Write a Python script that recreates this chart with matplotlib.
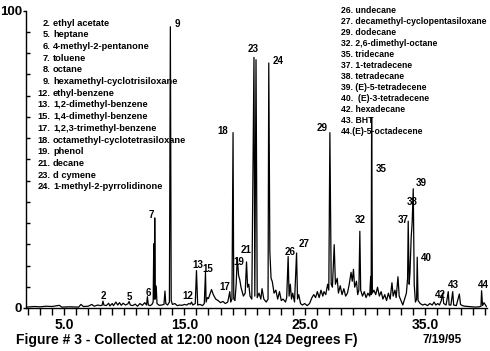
import matplotlib
matplotlib.use("Agg")
import matplotlib.pyplot as plt
from matplotlib.ticker import MultipleLocator, FixedLocator

# retention time (min) and relative abundance
rt = [1.85, 2.5, 3.0, 3.5, 4.0, 4.6, 4.8, 5.5, 6.2, 6.4, 6.6, 7.0, 7.3, 7.5, 7.8, 8.0,
      8.15, 8.23, 8.3, 8.5, 8.7, 8.8, 9.0, 9.1, 9.3, 9.45, 9.6, 9.75, 9.9, 10.1, 10.3,
      10.4, 10.5, 10.7, 10.9, 11.1, 11.3, 11.5, 11.7, 11.85, 11.92, 12.0, 12.15, 12.3,
      12.4, 12.45, 12.5, 12.53, 12.58, 12.65, 12.72, 12.9, 13.1, 13.3, 13.38, 13.45,
      13.6, 13.75, 13.83, 13.9, 14.0, 14.2, 14.4, 14.6, 14.8, 15.0, 15.2, 15.35, 15.5,
      15.58, 15.7, 15.9, 16.0, 16.1, 16.3, 16.5, 16.65, 16.75, 16.8, 16.9, 17.0, 17.25,
      17.4, 17.6, 17.8, 18.0, 18.2, 18.4, 18.6, 18.77, 18.85, 18.95, 19.04, 19.1, 19.2,
      19.3, 19.39, 19.5, 19.6, 19.7, 19.8, 19.9, 20.05, 20.16, 20.25, 20.35, 20.45, 20.6,
      20.78, 20.85, 20.95, 21.05, 21.2, 21.35, 21.45, 21.6, 21.8, 21.95, 22.01, 22.1,
      22.2, 22.3, 22.45, 22.6, 22.75, 22.9, 23.05, 23.2, 23.4, 23.5, 23.62, 23.7, 23.8,
      23.9, 24.0, 24.15, 24.32, 24.4, 24.5, 24.65, 24.8, 25.0, 25.2, 25.4, 25.6, 25.75,
      25.9, 26.05, 26.2, 26.35, 26.5, 26.6, 26.75, 26.9, 27.0, 27.09, 27.2, 27.3, 27.45,
      27.55, 27.7, 27.8, 27.95, 28.1, 28.25, 28.4, 28.55, 28.7, 28.85, 28.95, 29.05,
      29.15, 29.3, 29.4, 29.5, 29.58, 29.65, 29.8, 29.95, 30.1, 30.25, 30.4, 30.48,
      30.52, 30.56, 30.62, 30.75, 30.9, 31.05, 31.2, 31.35, 31.5, 31.65, 31.8, 31.95,
      32.1, 32.25, 32.35, 32.5, 32.6, 32.75, 32.85, 33.0, 33.15, 33.3, 33.45, 33.55,
      33.6, 33.68, 33.75, 33.85, 33.93, 34.02, 34.1, 34.2, 34.3, 34.35, 34.42, 34.6,
      34.8, 35.0, 35.2, 35.4, 35.6, 35.75, 35.9, 36.05, 36.2, 36.35, 36.46, 36.55,
      36.75, 36.93, 37.0, 37.15, 37.3, 37.38, 37.6, 37.85, 37.95, 38.1, 38.3, 38.6,
      38.9, 39.2, 39.5, 39.65, 39.7, 39.78, 39.9, 40.1]
abundance = [0.3, 0.5, 0.4, 0.6, 0.5, 0.9, 0.3, 0.4, 0.3, 1.2, 0.5, 0.6, 1.2, 0.6, 1.0, 0.8,
             0.9, 2.3, 1.0, 0.8, 1.6, 0.7, 1.5, 0.8, 2.0, 1.0, 1.8, 0.9, 1.6, 1.0, 1.4,
             2.2, 1.0, 0.8, 1.3, 0.6, 1.5, 0.9, 1.8, 1.0, 3.8, 1.0, 0.8, 1.2,
             2.0, 21.6, 3.0, 30.3, 3.0, 7.4, 1.5, 0.9, 1.0, 1.2, 5.7, 1.5,
             1.0, 2.0, 94.6, 2.5, 1.2, 1.5, 0.8, 1.0, 0.9, 1.2, 1.0, 1.5, 1.3,
             2.0, 1.0, 1.5, 12.6, 1.0, 1.2, 0.8, 1.5, 12.0, 2.0, 3.5, 3.2, 6.2,
             4.5, 3.0, 2.5, 1.8, 2.2, 1.5, 2.0, 5.5, 2.0, 3.0, 59.0, 3.0, 2.5,
             8.0, 17.0, 11.0, 9.5, 7.0, 5.5, 4.0, 5.0, 15.5, 7.0, 8.0, 4.0, 3.0,
             84.3, 4.0, 83.5, 3.5, 5.0, 3.0, 6.5, 3.0, 2.0, 3.0, 82.4, 19.0,
             10.0, 8.9, 5.0, 6.0, 3.0, 5.5, 2.5, 3.0, 2.0, 3.5, 17.3, 4.0, 8.0,
             3.0, 5.0, 2.0, 18.5, 3.0, 4.5, 1.5, 1.0, 1.5, 0.8, 1.5, 3.5, 4.5,
             3.5, 5.5, 3.5, 6.0, 4.0, 5.5, 4.5, 8.0, 6.0, 59.0, 8.0, 7.0, 21.3,
             8.0, 10.0, 5.0, 7.5, 4.5, 6.5, 4.0, 5.0, 8.0, 12.0, 9.0, 13.0,
             7.0, 9.0, 4.5, 6.0, 25.8, 6.0, 4.0, 5.5, 3.5, 5.0, 4.0, 10.6,
             4.5, 64.0, 5.0, 6.0, 4.5, 7.0, 4.0, 5.5, 3.0, 4.5, 2.5, 5.0,
             3.0, 8.5, 4.0, 6.0, 3.5, 10.5, 4.0, 2.5, 1.0, 3.0, 5.0, 10.0,
             29.2, 8.0, 12.0, 24.0, 28.7, 40.1, 8.0, 2.0, 3.0, 17.1, 2.5, 1.5,
             1.0, 1.3, 0.8, 1.5, 1.0, 2.0, 1.0, 1.5, 1.0, 2.5, 5.0, 1.5,
             1.0, 5.5, 1.0, 1.0, 5.5, 1.0, 0.8, 4.7, 1.2, 0.8, 0.6, 0.5,
             0.4, 0.3, 0.4, 0.6, 5.8, 0.8, 1.8, 0.5]

# peak numbers and where their labels sit (time, abundance)
peak_ids = ["2", "5", "6", "7", "9", "12", "13", "15", "17", "18", "19", "21", "23",
            "24", "26", "27", "29", "32", "35", "37", "38", "39", "40", "42", "43", "44"]
label_t = [8.23, 10.45, 11.97, 12.25, 14.44, 15.27, 16.1, 16.94, 18.35, 18.19, 19.52,
           20.16, 20.71, 22.79, 23.76, 24.92, 26.48, 29.58, 31.39, 33.14, 33.91, 34.72,
           35.13, 36.24, 37.35, 39.82]
label_y = [4.05, 3.7, 5.2, 31.4, 95.6, 4.05, 14.5, 13.2, 7.2, 59.6, 15.6,
           19.6, 87.2, 83.2, 19.0, 21.5, 60.7, 29.7, 46.6, 29.7, 35.5, 42.1,
           16.8, 4.4, 7.8, 7.8]

left_nums = ["2.", "5.", "6.", "7.", "8.", "9.", "12.", "13.", "15.", "17.", "18.",
             "19.", "21.", "23.", "24."]
left_names = ["ethyl acetate", "heptane", "4-methyl-2-pentanone", "toluene", "octane",
              "hexamethyl-cyclotrisiloxane", "ethyl-benzene", "1,2-dimethyl-benzene",
              "1,4-dimethyl-benzene", "1,2,3-trimethyl-benzene",
              "octamethyl-cyclotetrasiloxane", "phenol", "decane", "d cymene",
              "1-methyl-2-pyrrolidinone"]
right_lines = ["26. undecane", "27. decamethyl-cyclopentasiloxane", "29. dodecane",
               "32. 2,6-dimethyl-octane", "35. tridecane", "37. 1-tetradecene",
               "38. tetradecane", "39. (E)-5-tetradecene", "40.  (E)-3-tetradecene",
               "42. hexadecane", "43. BHT", "44.(E)-5-octadecene"]

narrow = ["Liberation Sans Narrow", "Liberation Sans"]
plt.rcParams["font.family"] = ["Liberation Sans", "DejaVu Sans"]
plt.rcParams["font.weight"] = "bold"

fig = plt.figure(figsize=(4.9, 3.51), dpi=100)
ax = fig.add_axes([26 / 490, 1 - 308 / 351, 461 / 490, 297.3 / 351])
ax.plot(rt, abundance, color="black", lw=0.9)
ax.set_xlim(1.83, 40.15)
ax.set_ylim(0, 100)

for sp in ["top", "right"]:
    ax.spines[sp].set_visible(False)
ax.spines["left"].set_linewidth(1.0)
ax.spines["bottom"].set_linewidth(1.0)

ax.xaxis.set_major_locator(FixedLocator([5, 15, 25, 35]))
ax.xaxis.set_minor_locator(MultipleLocator(1))
ax.set_xticklabels(["5.0", "15.0", "25.0", "35.0"])
ax.tick_params(axis="x", which="both", direction="out", length=5, width=1,
               labelsize=10, pad=2)
ax.yaxis.set_major_locator(FixedLocator([0, 100]))
ax.yaxis.set_minor_locator(MultipleLocator(100 / 14))
ax.set_yticklabels(["0", "100"])
ax.tick_params(axis="y", which="major", direction="out", length=2, width=1,
               labelsize=9.5, pad=1)
ax.tick_params(axis="y", which="minor", direction="in", length=3, width=1)

for pid, tx, ty in zip(peak_ids, label_t, label_y):
    ax.text(tx, ty, pid, fontsize=7, ha="center", va="center", family=narrow,
            clip_on=False)

# compound lists
for i, (n, name) in enumerate(zip(left_nums, left_names)):
    y = 1 - (23.3 + i * 11.67) / 351
    fig.text(50.5 / 490, y, n, fontsize=6.7, ha="right", va="center", family=narrow)
    fig.text(53 / 490, y, name, fontsize=6.7, ha="left", va="center", family=narrow)
for i, line in enumerate(right_lines):
    y = 1 - (10.7 + i * 11.0) / 351
    fig.text(341 / 490, y, line, fontsize=6.2, ha="left", va="center", family=narrow)

fig.text(16 / 490, 1 - 340 / 351, "Figure # 3 - Collected at 12:00 noon (124 Degrees F)",
         fontsize=10, ha="left", va="center")
fig.text(422.5 / 490, 1 - 340 / 351, "7/19/95", fontsize=8.5, ha="left", va="center")

fig.savefig("out.png", dpi=100)
